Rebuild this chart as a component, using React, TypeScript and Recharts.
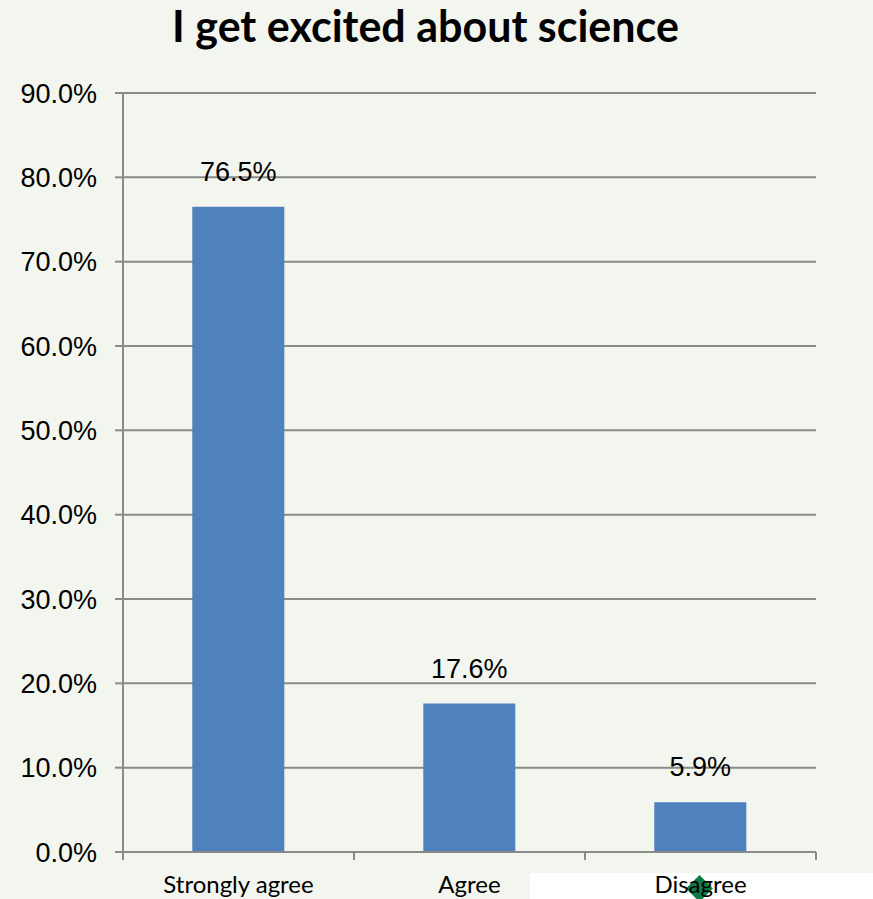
import { Bar, BarChart, CartesianGrid, LabelList, XAxis, YAxis } from "recharts";

const categories = ["Strongly agree", "Agree", "Disagree"];
const shares = [76.5, 17.6, 5.9];
const yTicks = [0, 10, 20, 30, 40, 50, 60, 70, 80, 90];

const data = categories.map((name, i) => ({ name, value: shares[i] }));

const BG = "#f3f6ee";
const GRID = "#8a8a8a";

// category label plus tick marks on the category edges (Excel style)
const CategoryTick = (props: any) => {
    const { x, y, payload, index, visibleTicksCount } = props;
    const half = payload?.offset ?? 0;
    const last = index === visibleTicksCount - 1;
    return (
        <g>
            <line x1={x - half} x2={x - half} y1={y} y2={y + 8} stroke={GRID} strokeWidth={2} />
            {last && <line x1={x + half} x2={x + half} y1={y} y2={y + 8} stroke={GRID} strokeWidth={2} />}
            <text
                x={x}
                y={y + 24}
                dy="0.71em"
                textAnchor="middle"
                fill="#000"
                fontFamily="Lato, sans-serif"
                fontSize={24}
            >
                {payload.value}
            </text>
        </g>
    );
};

export default function App() {
    return (
        <div style={{ position: "absolute", left: 0, top: 0, width: 873, height: 899, background: BG, overflow: "hidden" }}>
            {/* white patch + green marker at the bottom, behind the chart */}
            <div style={{ position: "absolute", left: 530, top: 873, width: 343, height: 26, background: "#ffffff" }} />
            <div
                style={{
                    position: "absolute",
                    left: 690,
                    top: 879,
                    width: 19,
                    height: 19,
                    background: "#0b7a45",
                    transform: "rotate(45deg)",
                }}
            />
            <div
                style={{
                    position: "absolute",
                    left: 0,
                    top: 0,
                    width: 851,
                    textAlign: "center",
                    fontFamily: "Lato, sans-serif",
                    fontWeight: 700,
                    fontSize: 43,
                    color: "#000",
                    whiteSpace: "nowrap",
                }}
            >
                I get excited about science
            </div>
            <div style={{ position: "absolute", left: 0, top: 0 }}>
                <BarChart
                    width={873}
                    height={899}
                    data={data}
                    margin={{ top: 93, right: 57, bottom: 0, left: 0 }}
                    barCategoryGap="30%"
                >
                    <CartesianGrid vertical={false} stroke={GRID} strokeWidth={2} />
                    <XAxis
                        dataKey="name"
                        stroke={GRID}
                        strokeWidth={2}
                        tickLine={false}
                        height={47}
                        tickSize={0}
                        tickMargin={0}
                        tick={<CategoryTick />}
                        interval={0}
                    />
                    <YAxis
                        width={123}
                        domain={[0, 90]}
                        ticks={yTicks}
                        tickFormatter={(v: number) => `${v.toFixed(1)}%`}
                        stroke={GRID}
                        strokeWidth={2}
                        tickSize={8}
                        tickMargin={18}
                        tick={{ fill: "#000", fontFamily: "'Liberation Sans', Arial, sans-serif", fontSize: 27 }}
                    />
                    <Bar dataKey="value" fill="#4f81bd" isAnimationActive={false}>
                        <LabelList
                            dataKey="value"
                            position="top"
                            offset={26}
                            formatter={(v: any) => `${Number(v).toFixed(1)}%`}
                            style={{ fill: "#000", fontFamily: "'Liberation Sans', Arial, sans-serif", fontSize: 27 }}
                        />
                    </Bar>
                </BarChart>
            </div>
        </div>
    );
}
